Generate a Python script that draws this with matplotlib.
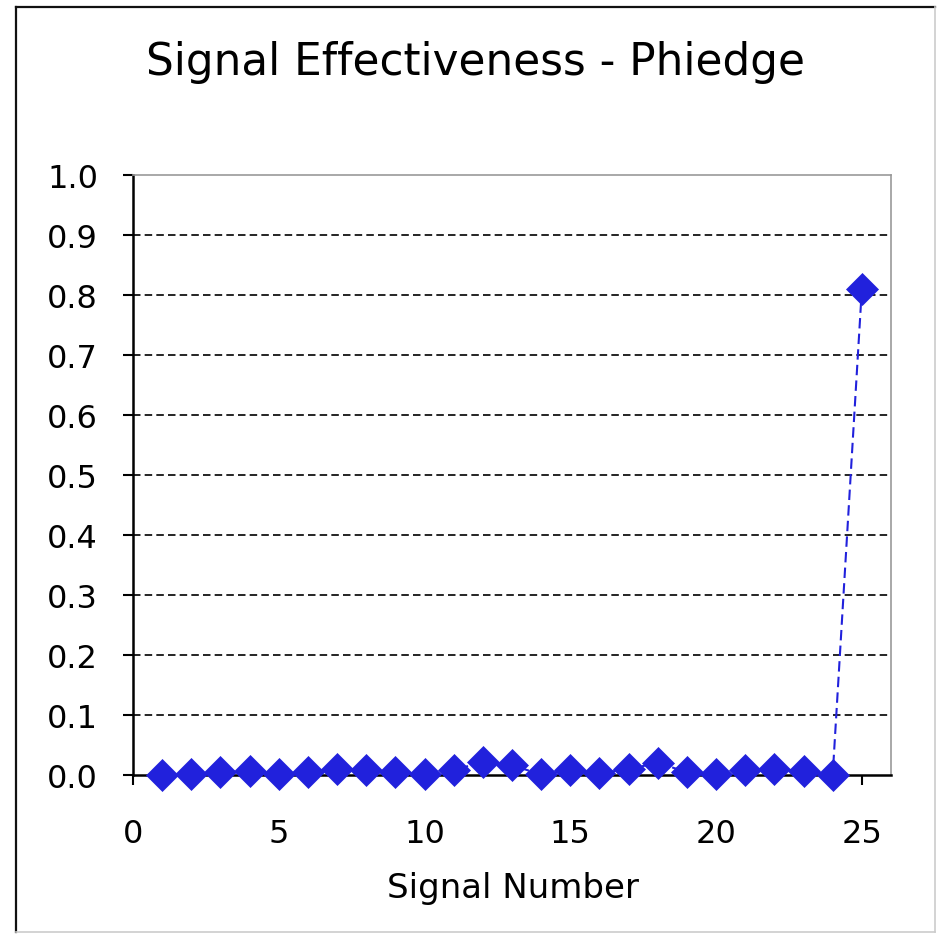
import numpy as np
import matplotlib.pyplot as plt
from matplotlib.lines import Line2D

signal_number = list(range(1, 26))
effectiveness = [0.000, 0.002, 0.005, 0.007, 0.002, 0.005, 0.010, 0.008, 0.005, 0.002,
                 0.008, 0.022, 0.016, 0.001, 0.008, 0.003, 0.010, 0.020, 0.005, 0.001,
                 0.008, 0.010, 0.007, 0.000, 0.810]
y_ticks = [0.0, 0.1, 0.2, 0.3, 0.4, 0.5, 0.6, 0.7, 0.8, 0.9, 1.0]
x_ticks = [0, 5, 10, 15, 20, 25]

blue = '#2121dc'
W, H = 942, 937

fig = plt.figure(figsize=(W/100, H/100), dpi=100)
ax = fig.add_axes([133/W, 1 - 776/H, (891 - 133)/W, (776 - 176)/H])

# outer frame: dark on left/top, light on right/bottom
def frame_line(x0, y0, x1, y1, color, lw):
    fig.add_artist(Line2D([x0/W, x1/W], [1 - y0/H, 1 - y1/H],
                          transform=fig.transFigure, color=color, linewidth=lw))

frame_line(16, 8, 935, 8, '#111111', 1.6)
frame_line(16, 8, 16, 933, '#111111', 1.6)
frame_line(935, 8, 935, 933, '#cccccc', 1.2)
frame_line(16, 933, 935, 933, '#cccccc', 1.2)

for y in y_ticks[1:-1]:
    ax.axhline(y, color='black', linewidth=1.2, linestyle=(0, (4.5, 2.5)), zorder=1)

ax.plot(signal_number, effectiveness, color=blue, linewidth=1.5,
        linestyle=(0, (5, 2.5)), marker='D', markersize=16.5,
        markerfacecolor=blue, markeredgecolor=blue, markeredgewidth=0.5,
        clip_on=False, zorder=3)

ax.set_xlim(0, 26)
ax.set_ylim(0, 1.0)
ax.set_xticks(x_ticks)
ax.set_yticks(y_ticks)
ax.set_yticklabels(['{:.1f}'.format(v) for v in y_ticks])
ax.tick_params(axis='both', direction='out', length=7.2, width=1.5,
               labelsize=23, colors='black')
ax.tick_params(axis='y', pad=18)
ax.tick_params(axis='x', pad=24)

for side in ['left', 'bottom']:
    ax.spines[side].set_linewidth(1.8)
    ax.spines[side].set_color('black')
for side in ['top', 'right']:
    ax.spines[side].set_linewidth(1.2)
    ax.spines[side].set_color('#999999')

ax.set_xlabel('Signal Number', fontsize=24.5)
ax.xaxis.label.set_va('baseline')
ax.xaxis.set_label_coords((513 - 133)/758, (776 - 898)/600)

fig.text(476/W, 1 - 75/H, 'Signal Effectiveness - Phiedge',
         fontsize=31.5, ha='center', va='baseline')

fig.savefig('out.png', dpi=100)
